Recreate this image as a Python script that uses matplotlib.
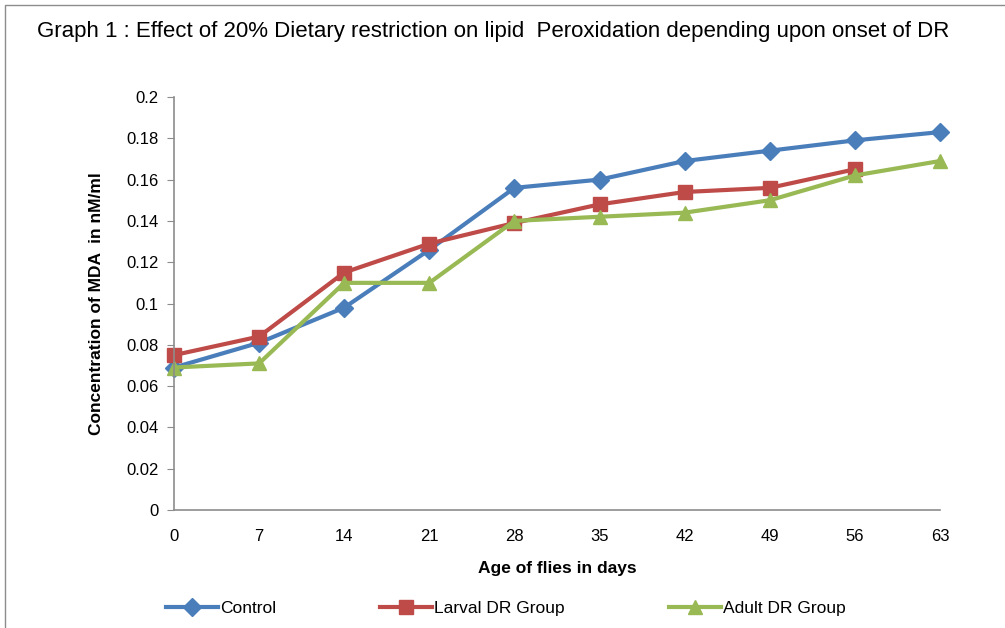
import matplotlib

matplotlib.use("Agg")

import matplotlib.pyplot as plt
from matplotlib.patches import Rectangle
from matplotlib.ticker import FuncFormatter

days = [0, 7, 14, 21, 28, 35, 42, 49, 56, 63]
control = [0.069, 0.081, 0.098, 0.126, 0.156, 0.160, 0.169, 0.174, 0.179, 0.183]
larval_days = [0, 7, 14, 21, 28, 35, 42, 49, 56]
larval = [0.075, 0.084, 0.115, 0.129, 0.139, 0.148, 0.154, 0.156, 0.165]
adult = [0.069, 0.071, 0.110, 0.110, 0.140, 0.142, 0.144, 0.150, 0.162, 0.169]
y_ticks = [0, 0.02, 0.04, 0.06, 0.08, 0.1, 0.12, 0.14, 0.16, 0.18, 0.2]

plt.rcParams["font.family"] = ["Liberation Sans", "DejaVu Sans"]

fig = plt.figure(figsize=(10.05, 6.28), dpi=100)
fig.patch.set_facecolor("white")
fig.patches.append(Rectangle((5 / 1005, -0.1), 1.2, 1 - 5 / 628 + 0.1, transform=fig.transFigure,
                             facecolor="none", edgecolor="#8c8c8c", linewidth=1.0))

ax = fig.add_axes([174 / 1005, 1 - 510 / 628, (940 - 174) / 1005, (510 - 97) / 628])

ax.plot(days, control, color="#4A7EBB", lw=3, marker="D", ms=9, label="Control")
ax.plot(larval_days, larval, color="#BE4B48", lw=3, marker="s", ms=10, label="Larval DR Group")
ax.plot(days, adult, color="#98B954", lw=3, marker="^", ms=10, label="Adult DR Group")

ax.set_xlim(0, 63)
ax.set_ylim(0, 0.2)
ax.set_xticks(days)
ax.set_yticks(y_ticks)
ax.yaxis.set_major_formatter(FuncFormatter(lambda v, p: f"{v:g}"))
ax.tick_params(axis="x", length=0, pad=14, labelsize=12)
ax.tick_params(axis="y", length=5, color="#8c8c8c", labelsize=12, pad=6)
for s in ["top", "right"]:
    ax.spines[s].set_visible(False)
for s in ["left", "bottom"]:
    ax.spines[s].set_color("#8c8c8c")
    ax.spines[s].set_linewidth(1.2)
for ln in ax.lines:
    ln.set_clip_on(False)

ax.set_xlabel("Age of flies in days", fontsize=12.5, fontweight="bold", labelpad=12)
ax.set_ylabel("Concentration of MDA  in nM/ml", fontsize=12.5, fontweight="bold", labelpad=16)

fig.text(37 / 1005, 1 - 32 / 628, "Graph 1 : Effect of 20% Dietary restriction on lipid  Peroxidation depending upon onset of DR",
         fontsize=16, va="center", ha="left")

fig.legend(loc="center left", bbox_to_anchor=(166 / 1005, 1 - 608 / 628), ncol=3, frameon=False,
           fontsize=12.5, handlelength=3.0, columnspacing=6.0, handletextpad=0.1, borderaxespad=0,
           borderpad=0)

fig.savefig("out.png", dpi=100)
